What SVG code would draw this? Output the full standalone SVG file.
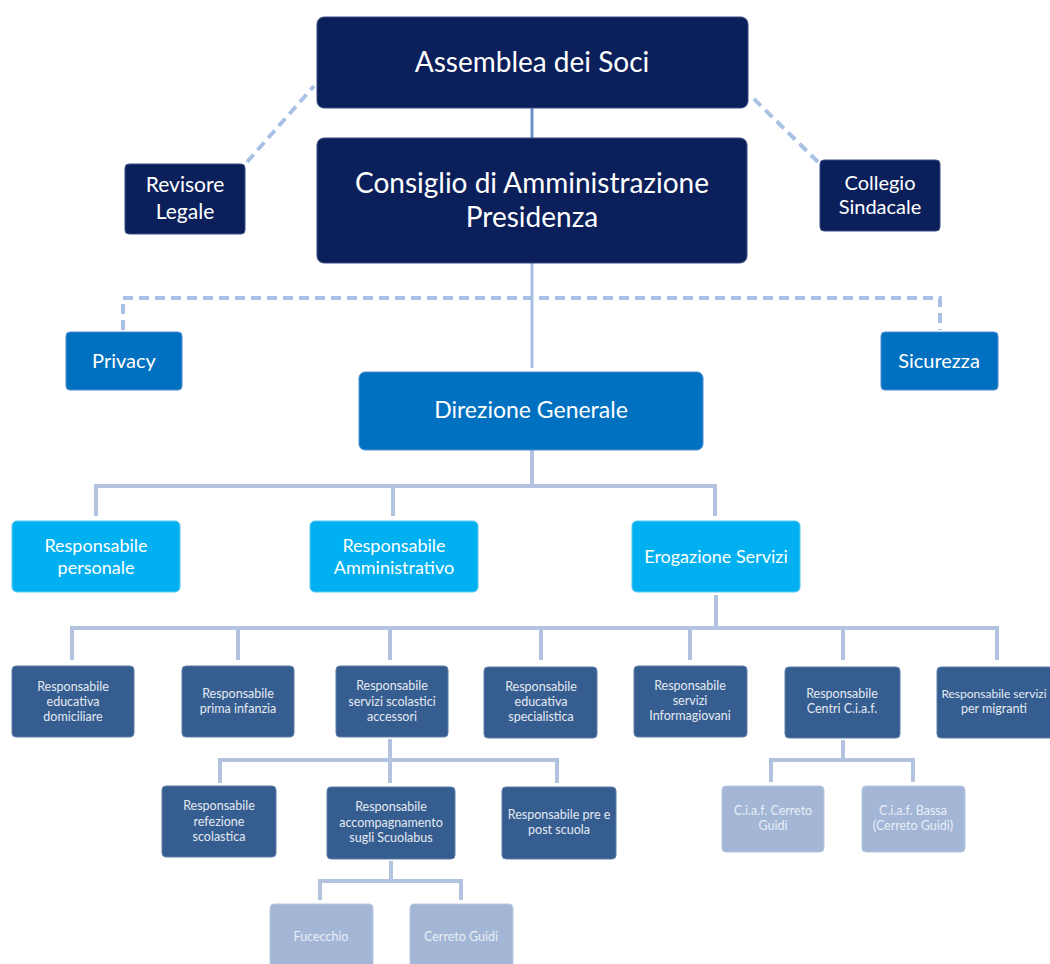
<svg xmlns="http://www.w3.org/2000/svg" width="1050" height="964" viewBox="0 0 1050 964">
<style>
text{font-family:Lato,"Open Sans","Liberation Sans",sans-serif;text-anchor:middle;fill:#ffffff}
.navy{fill:#0b1f5b;stroke:#3b4f86;stroke-width:1}
.blue{fill:#0070c0;stroke:#4d8fd0;stroke-width:1}
.cyan{fill:#00b0f0;stroke:#5cc8f2;stroke-width:1}
.mid{fill:#365d8f;stroke:#5f7fa8;stroke-width:1}
.pale{fill:#a3b6d6;stroke:#b9c8e0;stroke-width:1}
.t1{font-size:28px}
.t2{font-size:21px}
.t3{font-size:23px}
.t4{font-size:20px}
.t7{font-size:18px}
.t5{font-size:12.5px;fill:#e4eaf3}
.t6{font-size:12.5px;fill:#e8eef7}
.solid{stroke:#b3c3df;stroke-width:4;fill:none}
.dash{stroke:#a9c1e5;stroke-width:4;fill:none;stroke-dasharray:10 6}
</style>
<g id="connectors">
<line x1="532" y1="108" x2="532" y2="138" stroke="#6a92c8" stroke-width="3"/>
<line class="dash" x1="247" y1="162" x2="314" y2="86" stroke-width="3"/>
<line class="dash" x1="818" y1="162" x2="751" y2="96" stroke-width="3"/>
<line x1="532" y1="263" x2="532" y2="368" stroke="#a9c1e5" stroke-width="3"/>
<path class="dash" d="M123 330 V298 H940 V330"/>
<path class="solid" d="M532 450 V486"/>
<path class="solid" d="M96 516 V486 H715 V516 M393 486 V516"/>
<path class="solid" d="M716 595 V628"/>
<path class="solid" d="M72 660 V628 H997 V660 M238 628 V660 M390 628 V660 M541 628 V660 M690 628 V660 M843 628 V660"/>
<path class="solid" d="M390 739 V760"/>
<path class="solid" d="M220 783 V760 H557 V783 M390 760 V783"/>
<path class="solid" d="M843 740 V760"/>
<path class="solid" d="M771 782 V760 H913 V782"/>
<path class="solid" d="M391 861 V881"/>
<path class="solid" d="M320 900 V881 H461 V900"/>
</g>
<g id="assemblea"><rect class="navy" x="317" y="17" width="431" height="91" rx="7"/><text class="t1" x="532" y="72">Assemblea dei Soci</text></g>
<g id="consiglio"><rect class="navy" x="317" y="138" width="430" height="125" rx="7"/><text class="t1" x="532" y="193">Consiglio di Amministrazione</text><text class="t1" x="532" y="227">Presidenza</text></g>
<g id="revisore"><rect class="navy" x="125" y="164" width="120" height="70" rx="4"/><text class="t2" x="185" y="192">Revisore</text><text class="t2" x="185" y="219">Legale</text></g>
<g id="collegio"><rect class="navy" x="820" y="160" width="120" height="71" rx="4"/><text class="t4" x="880" y="190">Collegio</text><text class="t4" x="880" y="214">Sindacale</text></g>
<g id="privacy"><rect class="blue" x="66" y="332" width="116" height="58" rx="4"/><text class="t4" x="124" y="368">Privacy</text></g>
<g id="sicurezza"><rect class="blue" x="881" y="332" width="117" height="58" rx="4"/><text class="t4" x="939" y="368">Sicurezza</text></g>
<g id="direzione"><rect class="blue" x="359" y="372" width="344" height="78" rx="6"/><text class="t3" x="531" y="418">Direzione Generale</text></g>
<g id="personale"><rect class="cyan" x="12" y="521" width="168" height="71" rx="5"/><text class="t7" x="96" y="552">Responsabile</text><text class="t7" x="96" y="574">personale</text></g>
<g id="amministrativo"><rect class="cyan" x="310" y="521" width="168" height="71" rx="5"/><text class="t7" x="394" y="552">Responsabile</text><text class="t7" x="394" y="574">Amministrativo</text></g>
<g id="erogazione"><rect class="cyan" x="632" y="521" width="168" height="71" rx="5"/><text class="t7" x="716" y="563">Erogazione Servizi</text></g>
<g id="domiciliare"><rect class="mid" x="12" y="666" width="122" height="71" rx="4"/><text class="t5" x="73" y="691">Responsabile</text><text class="t5" x="73" y="706">educativa</text><text class="t5" x="73" y="721">domiciliare</text></g>
<g id="infanzia"><rect class="mid" x="182" y="666" width="112" height="71" rx="4"/><text class="t5" x="238" y="698">Responsabile</text><text class="t5" x="238" y="713">prima infanzia</text></g>
<g id="scolastici"><rect class="mid" x="336" y="666" width="112" height="71" rx="4"/><text class="t5" x="392" y="690">Responsabile</text><text class="t5" x="392" y="706">servizi scolastici</text><text class="t5" x="392" y="721">accessori</text></g>
<g id="specialistica"><rect class="mid" x="484" y="667" width="113" height="71" rx="4"/><text class="t5" x="541" y="691">Responsabile</text><text class="t5" x="541" y="706">educativa</text><text class="t5" x="541" y="721">specialistica</text></g>
<g id="informagiovani"><rect class="mid" x="634" y="666" width="113" height="71" rx="4"/><text class="t5" x="690" y="690">Responsabile</text><text class="t5" x="690" y="705">servizi</text><text class="t5" x="690" y="720">Informagiovani</text></g>
<g id="ciaf"><rect class="mid" x="785" y="667" width="115" height="71" rx="4"/><text class="t5" x="842" y="698">Responsabile</text><text class="t5" x="842" y="713">Centri C.i.a.f.</text></g>
<g id="migranti"><rect class="mid" x="937" y="667" width="122" height="71" rx="4"/><text class="t5" x="994" y="698" style="font-size:12px">Responsabile servizi</text><text class="t5" x="994" y="713">per migranti</text></g>
<g id="refezione"><rect class="mid" x="162" y="786" width="114" height="71" rx="4"/><text class="t5" x="219" y="810">Responsabile</text><text class="t5" x="219" y="826">refezione</text><text class="t5" x="219" y="841">scolastica</text></g>
<g id="accompagnamento"><rect class="mid" x="327" y="787" width="128" height="72" rx="4"/><text class="t5" x="391" y="811">Responsabile</text><text class="t5" x="391" y="827">accompagnamento</text><text class="t5" x="391" y="842">sugli Scuolabus</text></g>
<g id="prepost"><rect class="mid" x="502" y="787" width="114" height="72" rx="4"/><text class="t5" x="559" y="819">Responsabile pre e</text><text class="t5" x="559" y="834">post scuola</text></g>
<g id="ciaf-cerreto"><rect class="pale" x="722" y="786" width="102" height="66" rx="4"/><text class="t6" x="773" y="815">C.i.a.f. Cerreto</text><text class="t6" x="773" y="830">Guidi</text></g>
<g id="ciaf-bassa"><rect class="pale" x="862" y="786" width="103" height="66" rx="4"/><text class="t6" x="913" y="815">C.i.a.f. Bassa</text><text class="t6" x="913" y="830">(Cerreto Guidi)</text></g>
<g id="fucecchio"><rect class="pale" x="270" y="904" width="103" height="70" rx="4"/><text class="t6" x="321" y="941">Fucecchio</text></g>
<g id="cerreto"><rect class="pale" x="410" y="904" width="103" height="70" rx="4"/><text class="t6" x="461" y="941">Cerreto Guidi</text></g>
</svg>
